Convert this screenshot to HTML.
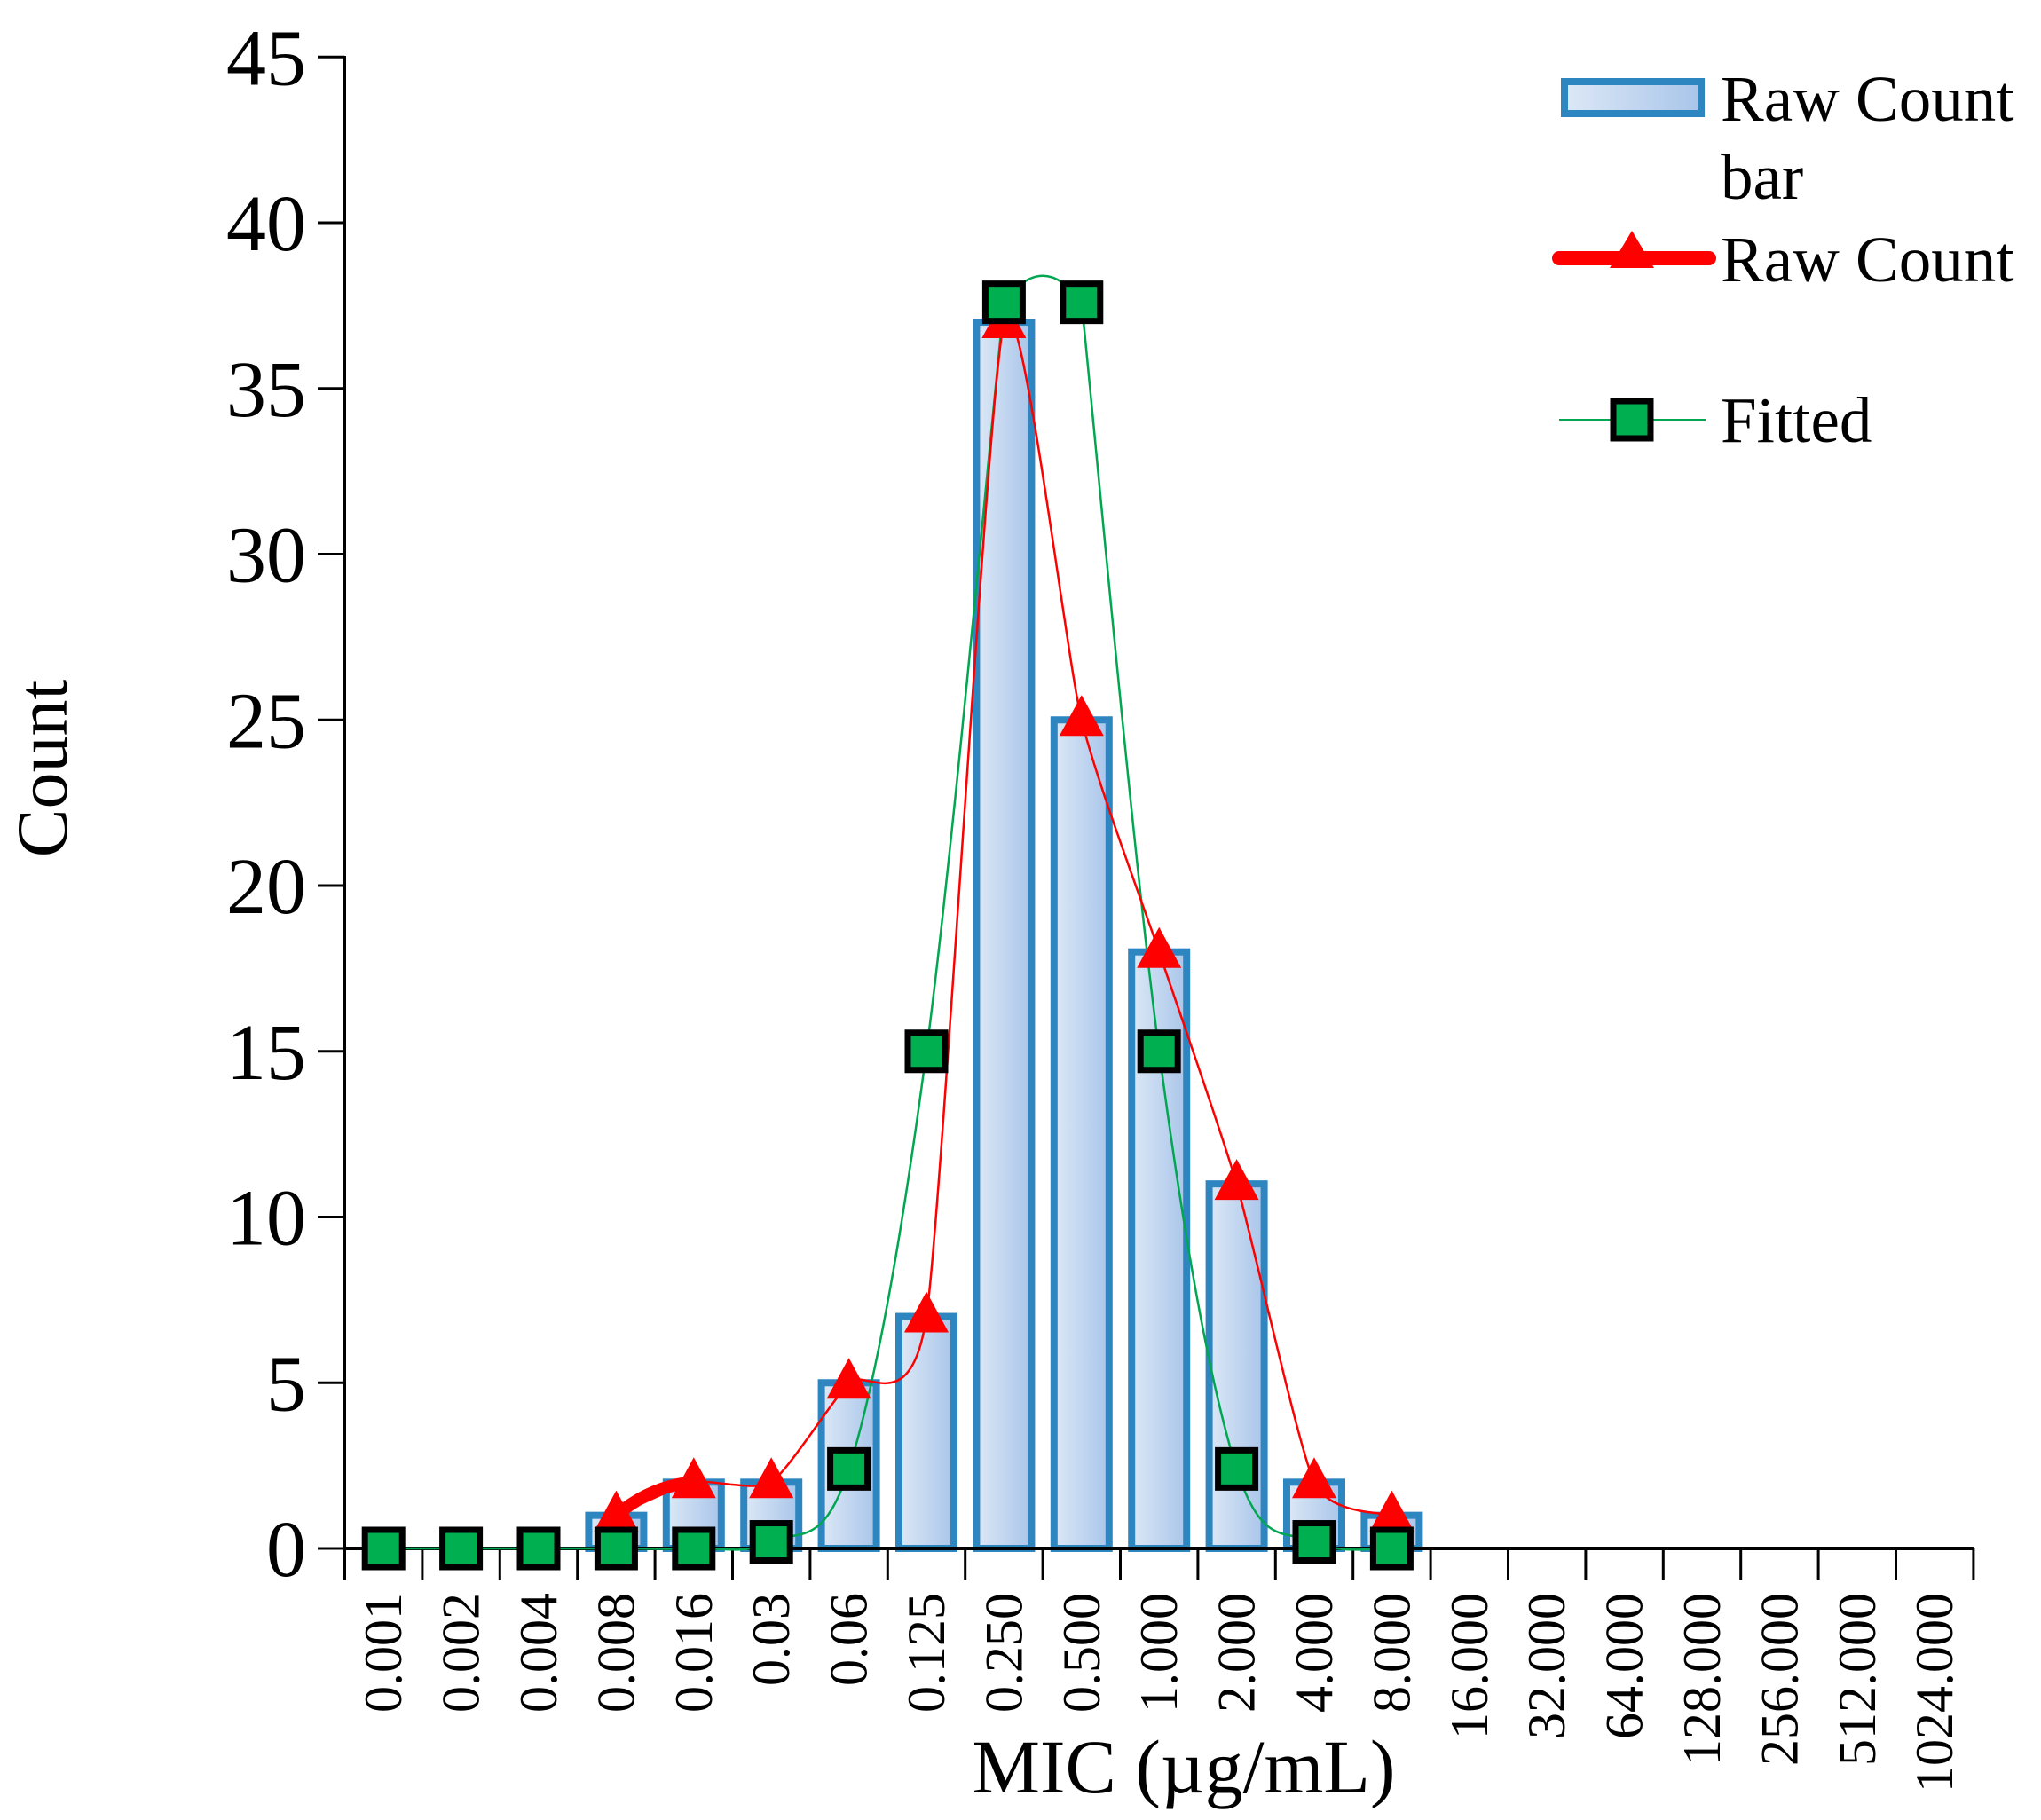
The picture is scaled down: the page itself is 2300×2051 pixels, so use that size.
<!DOCTYPE html>
<html><head><meta charset="utf-8"><style>
html,body{margin:0;padding:0;background:#fff}
svg{display:block}
text{font-family:"Liberation Serif",serif;fill:#000}
</style></head><body>
<svg id="s" width="2300" height="2051" viewBox="0 0 2300 2051" xmlns="http://www.w3.org/2000/svg">
<defs>
<linearGradient id="g" x1="0" y1="0" x2="1" y2="0">
<stop offset="0" stop-color="#dce8f6"/><stop offset="1" stop-color="#a9c5ea"/>
</linearGradient>
</defs>
<g id="bars"></g>
<g id="axes" stroke="#000" stroke-width="3"></g>
<g id="lines"></g>
<g id="labels"></g>
<text x="75" y="866" font-size="82" text-anchor="middle" transform="rotate(-90 75 866)">Count</text>
<text x="1334" y="2020" font-size="86" text-anchor="middle">MIC (µg/mL)</text>
<rect x="1763" y="92" width="154" height="36" fill="url(#g)" stroke="#2e86c1" stroke-width="8"/>
<text x="1939" y="136" font-size="73">Raw Count</text>
<text x="1939" y="224" font-size="73">bar</text>
<line x1="1757" y1="291" x2="1926" y2="291" stroke="#ff0000" stroke-width="16" stroke-linecap="round"/>
<polygon points="1839,260 1864,302 1814,302" fill="#ff0000"/>
<text x="1939" y="317" font-size="73">Raw Count</text>
<line x1="1757" y1="473" x2="1922" y2="473" stroke="#00a650" stroke-width="2"/>
<rect x="1818" y="452" width="42" height="42" fill="#00b050" stroke="#000" stroke-width="7"/>
<text x="1939" y="498" font-size="73">Fitted</text>
</svg>
<script>
var NS="http://www.w3.org/2000/svg";
function el(p,t,a,txt){var e=document.createElementNS(NS,t);for(var k in a)e.setAttribute(k,a[k]);if(txt!==undefined)e.textContent=txt;document.getElementById(p).appendChild(e);return e;}
var X0=388.5,CW=87.4,Y0=1745,U=37.35;
function X(i){return X0+CW*(i+0.5);}function Y(v){return Y0-U*v;}
var cats=["0.001","0.002","0.004","0.008","0.016","0.03","0.06","0.125","0.250","0.500","1.000","2.000","4.000","8.000","16.000","32.000","64.000","128.000","256.000","512.000","1024.000"];
var raw=[0,0,0,1,2,2,5,7,37,25,18,11,2,1];
var fit=[0,0,0,0,0,0.2,2.4,15,37.6,37.6,15,2.4,0.2,0];
raw.forEach(function(v,i){if(v>0)el("bars","rect",{x:X(i)-31,y:Y(v),width:62,height:Y0-Y(v),fill:"url(#g)",stroke:"#2e86c1","stroke-width":8});});
el("axes","line",{x1:X0,y1:63,x2:X0,y2:Y0});
el("axes","line",{x1:X0,y1:Y0,x2:X0+CW*21,y2:Y0,"stroke-width":4});
for(var k=0;k<=9;k++){var y=Y0-k*5*U;el("axes","line",{x1:358,y1:y,x2:X0,y2:y});
 el("labels","text",{x:345,y:y+31,"font-size":90,"text-anchor":"end"},String(k*5));}
for(var k=0;k<=21;k++){var x=X0+CW*k;el("axes","line",{x1:x,y1:Y0,x2:x,y2:1780});}
cats.forEach(function(c,i){var x=X(i)+20,y=1795;el("labels","text",{x:x,y:y,"font-size":60,"text-anchor":"end",transform:"rotate(-90 "+x+" "+y+")"},c);});
function cr(pts,t){var d="";for(var i=0;i<pts.length-1;i++){var p0=pts[i-1]||pts[i],p1=pts[i],p2=pts[i+1],p3=pts[i+2]||p2;
 d+=" C"+(p1[0]+(p2[0]-p0[0])/t)+","+(p1[1]+(p2[1]-p0[1])/t)+" "+(p2[0]-(p3[0]-p1[0])/t)+","+(p2[1]-(p3[1]-p1[1])/t)+" "+p2[0]+","+p2[1];}return d;}
var a=[],b=[];for(var i=0;i<=8;i++)a.push([X(i),Y(fit[i])]);for(var i=9;i<=13;i++)b.push([X(i),Y(fit[i])]);
var gd="M"+a[0][0]+","+a[0][1]+cr(a,6)+" Q"+((X(8)+X(9))/2)+","+Y(39.2)+" "+X(9)+","+Y(37.6)+cr(b,6);
el("lines","path",{d:gd,fill:"none",stroke:"#00a650","stroke-width":2.5});
var rp=[];for(var i=3;i<=13;i++)rp.push([X(i),Y(raw[i])]);
el("lines","path",{d:"M"+rp[0][0]+","+rp[0][1]+cr(rp,10),fill:"none",stroke:"#ff0000","stroke-width":2.5});
el("lines","path",{d:"M"+X(3)+","+Y(1)+" Q"+(X(3)+40)+","+(Y(1.9))+" "+X(4)+","+Y(2),fill:"none",stroke:"#ff0000","stroke-width":14,"stroke-linecap":"round"});
for(var i=3;i<=13;i++){var x=X(i),y=Y(raw[i]);el("lines","polygon",{points:x+","+(y-28)+" "+(x+25)+","+(y+18)+" "+(x-25)+","+(y+18),fill:"#ff0000"});}
for(var i=0;i<=13;i++){var x=X(i),y=Y(fit[i]);el("lines","rect",{x:x-21,y:y-21,width:42,height:42,fill:"#00b050",stroke:"#000","stroke-width":7});}
</script>
</body></html>
